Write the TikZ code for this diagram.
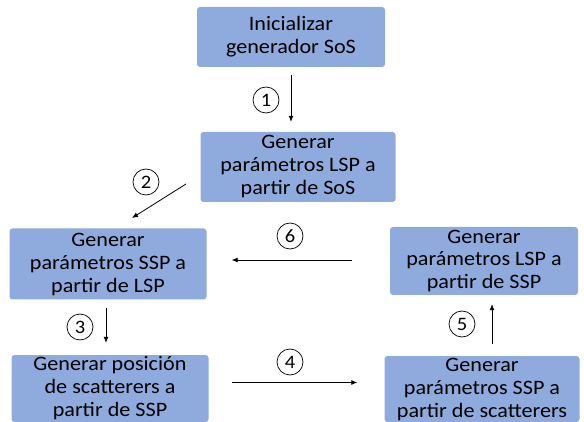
\documentclass[tikz,border=0pt]{standalone}
\usepackage{fontspec}
\setmainfont{Carlito}[FakeStretch=1.08]
\usetikzlibrary{arrows.meta}
\definecolor{boxblue}{HTML}{8FAADC}
\tikzset{
  stepbox/.style={fill=boxblue, rounded corners=3pt, align=center, inner sep=0pt, font=\fontsize{20.5}{23}\selectfont},
  num/.style={draw, circle, line width=0.7pt, minimum size=26, inner sep=0pt, font=\fontsize{19}{19}\selectfont},
  flow/.style={-{Latex[length=6pt,width=5pt]}, line width=0.8pt}
}
\begin{document}
\begin{tikzpicture}[x=1pt,y=-1pt]
    \clip (0,0) rectangle (584,422);

    % Pasos
    \node[stepbox, minimum width=188, minimum height=60] (init) at (291,37) {Inicializar\\generador SoS};
    \node[stepbox, minimum width=195, minimum height=70] (lspsos) at (298,167) {Generar\\parámetros LSP a\\partir de SoS};
    \node[stepbox, minimum width=197, minimum height=71] (ssplsp) at (108,264) {Generar\\parámetros SSP a\\partir de LSP};
    \node[stepbox, minimum width=188, minimum height=68] (lspssp) at (484,261) {Generar\\parámetros LSP a\\partir de SSP};
    \node[stepbox, minimum width=197, minimum height=67] (pos) at (110,388.5) {Generar posición\\de scatterers a\\partir de SSP};
    \node[stepbox, minimum width=195, minimum height=66] (sspsca) at (482,389) {Generar\\parámetros SSP a\\partir de scatterers};

    % Flechas
    \draw[flow, shorten <=8, shorten >=10] (init.south) -- (init.south |- lspsos.north);
    \coordinate (a2s) at (186,184);
    \coordinate (a2e) at (132,218);
    \draw[flow] (a2s) -- (a2e);
    \draw[flow, shorten <=8, shorten >=12] ([xshift=-2]ssplsp.south) -- ([xshift=-2]ssplsp.south |- pos.north);
    \draw[flow, shorten <=23, shorten >=27] ([yshift=6]pos.east) -- ([yshift=6]pos.east -| sspsca.west);
    \draw[flow, shorten <=12, shorten >=9] ([xshift=10]sspsca.north) -- ([xshift=10]sspsca.north |- lspssp.south);
    \draw[flow, shorten <=38, shorten >=25] ([yshift=1]lspssp.west) -- ([yshift=1]lspssp.west -| ssplsp.east);

    % Numeros
    \node[num] (n1) at (266,100) {1};
    \node[num] (n2) at (146,182) {2};
    \node[num] (n3) at (80,327) {3};
    \node[num] (n4) at (290,362) {4};
    \node[num] (n5) at (462,324) {5};
    \node[num] (n6) at (290,236) {6};
\end{tikzpicture}
\end{document}
